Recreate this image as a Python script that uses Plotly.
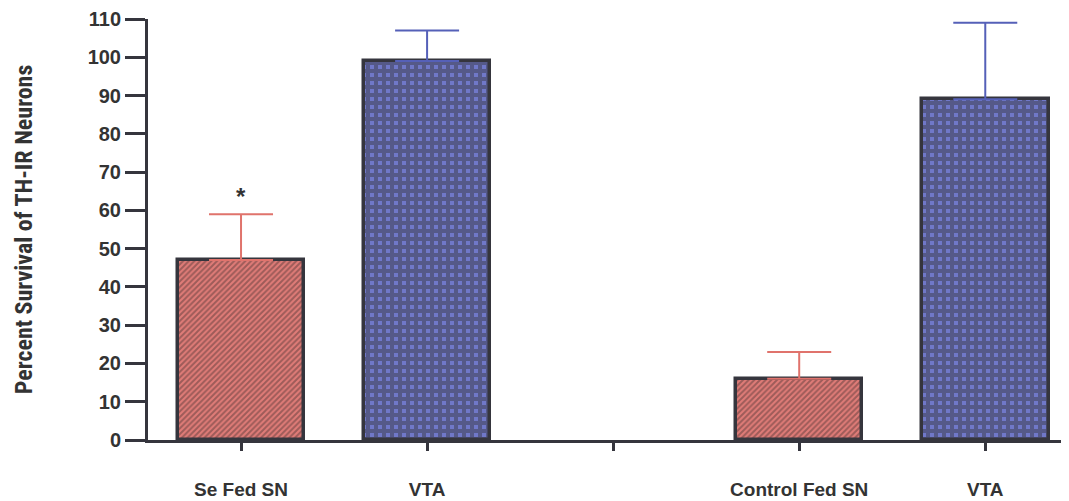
import plotly.graph_objects as go

tick_labels = ["Se Fed SN", "VTA", "", "Control Fed SN", "VTA"]
sn_x = [0, 3]
sn_values = [47, 16]
sn_err = [12, 7]
vta_x = [1, 4]
vta_values = [99, 89]
vta_err = [8, 20]
y_ticks = list(range(0, 111, 10))

dark = "#35353d"
fig = go.Figure()
fig.add_trace(go.Bar(
    x=sn_x, y=sn_values, width=0.68,
    marker=dict(color="#d9786c",
                line=dict(color=dark, width=3.5),
                pattern=dict(shape="/", fgcolor="#5a3a3a", bgcolor="#e07c78", size=4, solidity=0.5)),
    error_y=dict(type="data", array=sn_err, arrayminus=[0, 0], symmetric=False,
                 color="#e0736c", thickness=2, width=32),
    showlegend=False,
))
fig.add_trace(go.Bar(
    x=vta_x, y=vta_values, width=0.68,
    marker=dict(color="#5b63b8",
                line=dict(color=dark, width=3.5),
                pattern=dict(shape="+", fgcolor="#3a3a48", bgcolor="#7078c8", size=8, solidity=0.75)),
    error_y=dict(type="data", array=vta_err, arrayminus=[0, 0], symmetric=False,
                 color="#5560b8", thickness=2, width=32),
    showlegend=False,
))
fig.add_annotation(x=sn_x[0], y=sn_values[0] + sn_err[0], text="<b>*</b>", showarrow=False,
                   yshift=18, font=dict(size=24, color="#333", family="Liberation Sans"))

fig.update_layout(
    width=1061, height=493,
    margin=dict(l=140, r=0, t=11, b=61),
    plot_bgcolor="white", paper_bgcolor="white",
    bargap=0,
    font=dict(family="Liberation Sans", color="#3a3a3a"),
)
fig.update_xaxes(
    range=[-0.5, 4.45], tickvals=list(range(len(tick_labels))), ticktext=tick_labels,
    showline=True, linecolor=dark, linewidth=3, ticks="outside", ticklen=8, tickwidth=3,
    tickcolor=dark, showgrid=False, zeroline=False, ticklabelstandoff=22, automargin=False,
    tickfont=dict(size=19, family="Liberation Sans", weight="bold", color="#333"),
)
fig.update_yaxes(
    range=[0, 110], tickvals=y_ticks, showline=True, linecolor=dark, linewidth=3,
    ticks="outside", ticklen=20, tickwidth=3, tickcolor=dark, showgrid=False, zeroline=False,
    automargin=False,
    tickfont=dict(size=20, family="Liberation Sans", weight="bold", color="#333"),
    title=dict(text="Percent Survival of TH-IR Neurons", standoff=49,
               font=dict(size=24, family="Liberation Sans Narrow, Roboto Condensed, Liberation Sans",
                         weight="bold", color="#333")),
)
fig.write_html("out.html")
